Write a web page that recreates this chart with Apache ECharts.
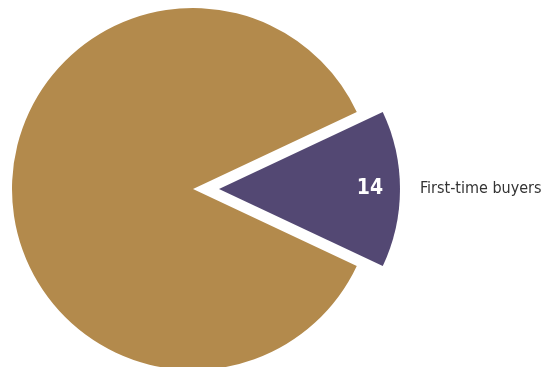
<!DOCTYPE html>
<html>
<head>
<meta charset="utf-8">
<script src="https://cdn.jsdelivr.net/npm/echarts@6/dist/echarts.min.js"></script>
<style>
  html, body { margin: 0; padding: 0; background: #fff; }
  #chart { width: 553px; height: 367px; }
</style>
</head>
<body>
<div id="chart"></div>
<script>
// Share of buyers (per cent)
const categories = ['First-time buyers', 'Other buyers'];
const shares = [14, 86];
const colors = ['#534873', '#B38A4C'];

const narrow = '"Liberation Sans Narrow", "DejaVu Sans Condensed", "Roboto Condensed", "Arial Narrow", sans-serif';

const center = [193, 189];
const outerR = 181;
const explode = 26;
// start the highlighted slice so that it is centred on the horizontal
const startAngle = shares[0] / 2 * 3.6;

function slices(overlay) {
  return categories.map((name, i) => ({
    name: name,
    value: shares[i],
    selected: i === 0,
    itemStyle: { color: overlay ? 'rgba(0,0,0,0)' : colors[i] },
    select: { itemStyle: { color: overlay ? 'rgba(0,0,0,0)' : colors[i] } }
  }));
}

const mainData = slices(false).map((d, i) => {
  d.label = i === 0
    ? { show: true, position: 'outside', formatter: '{b}', color: '#333333', fontSize: 16, fontFamily: narrow, padding: [5, 0, 0, 0] }
    : { show: false };
  d.labelLine = { show: false, length: 10, length2: 5 };
  return d;
});

// transparent ring whose inside-label sits near the outer edge of the slice
const valueData = slices(true).map((d, i) => {
  d.label = i === 0
    ? { show: true, position: 'inside', formatter: '{c}', color: '#ffffff', fontSize: 21, fontWeight: 'bold', fontFamily: narrow, padding: [2, 0, 0, 0] }
    : { show: false };
  return d;
});

const chart = echarts.init(document.getElementById('chart'), null, { renderer: 'canvas' });
chart.setOption({
  animation: false,
  series: [
    {
      type: 'pie',
      center: center,
      radius: [0, outerR],
      startAngle: startAngle,
      clockwise: true,
      selectedMode: 'single',
      selectedOffset: explode,
      avoidLabelOverlap: false,
      emphasis: { disabled: true },
      silent: true,
      data: mainData
    },
    {
      type: 'pie',
      center: center,
      radius: [115, outerR],
      startAngle: startAngle,
      clockwise: true,
      selectedMode: 'single',
      selectedOffset: explode,
      avoidLabelOverlap: false,
      emphasis: { disabled: true },
      silent: true,
      z: 3,
      data: valueData
    }
  ]
});
</script>
</body>
</html>
